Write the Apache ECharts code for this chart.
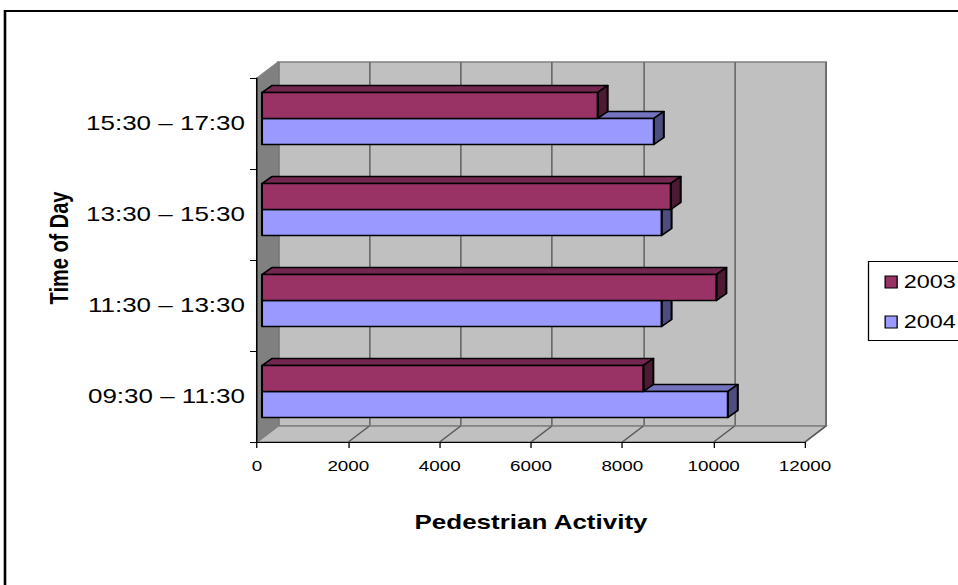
<!DOCTYPE html>
<html>
<head>
<meta charset="utf-8">
<script src="https://cdn.jsdelivr.net/npm/echarts@6/dist/echarts.min.js"></script>
<style>
  html, body { margin: 0; padding: 0; background: #fff; overflow: hidden; }
  #stage { width: 958px; height: 585px; overflow: hidden; }
  #chart { height: 585px; transform-origin: 0 0; }
</style>
</head>
<body>
<div id="stage"><div id="chart"></div></div>
<script>
// Pedestrian counts per two-hour window
const timeSlots = ['09:30 – 11:30', '11:30 – 13:30', '13:30 – 15:30', '15:30 – 17:30'];
const activity2003 = [8350, 9950, 8950, 7350];
const activity2004 = [10200, 8750, 8750, 8580];
const activityTicks = [0, 2000, 4000, 6000, 8000, 10000, 12000];
const seriesNames = ['2003', '2004'];

// The chart is laid out in a narrower box and widened horizontally by STRETCH,
// giving the broad, horizontally stretched look of the original export.
const STRETCH = 1.3;
const W = 958, H = 585;
const sx = function (v) { return v / STRETCH; };

const chartEl = document.getElementById('chart');
chartEl.style.width = sx(W) + 'px';
chartEl.style.transform = 'scaleX(' + STRETCH + ')';

// Pseudo-3D box: front plane, wall depth and bar depth (screen pixels before stretch)
const FONT = 'Liberation Sans, Arial, sans-serif';
const FRONT = { left: sx(257), top: 78, width: sx(548), height: 364 };
const DEPTH = [sx(21), -16];
const BAR_SHIFT = [sx(5), -5];
const BAR_DEPTH = [sx(10), -7];
const BAR_H = 26;

const palette = {
  '2003': { front: '#993366', top: '#732650', side: '#4d1a33' },
  '2004': { front: '#9999ff', top: '#7373c0', side: '#4d4d80' }
};

function barRenderer(name, upper) {
  const col = palette[name];
  return function (params, api) {
    const v = api.value(0), c = api.value(1);
    const p0 = api.coord([0, c]);
    const p1 = api.coord([v, c]);
    const x0 = p0[0] + BAR_SHIFT[0];
    const x1 = p1[0] + BAR_SHIFT[0];
    const yc = p0[1] + BAR_SHIFT[1];
    const top = upper ? yc - BAR_H : yc;
    const bot = top + BAR_H;
    const dx = BAR_DEPTH[0], dy = BAR_DEPTH[1];
    const edge = { stroke: '#000', lineWidth: 1.6, lineJoin: 'round' };
    return {
      type: 'group',
      children: [
        { type: 'polygon', shape: { points: [[x0, top], [x1, top], [x1 + dx, top + dy], [x0 + dx, top + dy]] },
          style: Object.assign({ fill: col.top }, edge) },
        { type: 'polygon', shape: { points: [[x1, top], [x1, bot], [x1 + dx, bot + dy], [x1 + dx, top + dy]] },
          style: Object.assign({ fill: col.side }, edge) },
        { type: 'rect', shape: { x: x0, y: top, width: x1 - x0, height: BAR_H },
          style: Object.assign({ fill: col.front }, edge) }
      ]
    };
  };
}

// Side wall and floor of the box, plus floor grid lines
function wallRenderer(params, api) {
  const cs = params.coordSys;
  const L = cs.x, T = cs.y, R = cs.x + cs.width, B = cs.y + cs.height;
  const dx = DEPTH[0], dy = DEPTH[1];
  const children = [
    { type: 'polygon', shape: { points: [[L, B], [R, B], [R + dx, B + dy], [L + dx, B + dy]] },
      style: { fill: '#c0c0c0', stroke: '#808080', lineWidth: 1.4 } },
    { type: 'polygon', shape: { points: [[L, B], [L, T], [L + dx, T + dy], [L + dx, B + dy]] },
      style: { fill: '#808080', stroke: '#808080', lineWidth: 1 } }
  ];
  activityTicks.forEach(function (t) {
    if (t === 0) return;
    const x = api.coord([t, 0])[0];
    children.push({ type: 'line', shape: { x1: x, y1: B, x2: x + dx, y2: B + dy },
      style: { stroke: '#5a5a5a', lineWidth: 1.1 } });
  });
  return { type: 'group', children: children };
}

const chart = echarts.init(chartEl, null, { renderer: 'svg' });

chart.setOption({
  animation: false,
  backgroundColor: '#ffffff',
  textStyle: { fontFamily: FONT, color: '#000' },
  grid: [
    { left: FRONT.left, top: FRONT.top, width: FRONT.width, height: FRONT.height, containLabel: false },
    { left: FRONT.left + DEPTH[0], top: FRONT.top + DEPTH[1], width: FRONT.width, height: FRONT.height,
      show: true, backgroundColor: '#c0c0c0', borderColor: '#808080', borderWidth: 1.4, z: 0 }
  ],
  xAxis: [
    {
      gridIndex: 0, type: 'value', min: 0, max: 12000, interval: 2000,
      axisLine: { show: true, lineStyle: { color: '#000', width: 1.2 } },
      axisTick: { show: true, length: 6, lineStyle: { color: '#000', width: 1 } },
      axisLabel: { color: '#000', fontSize: 14.5, fontFamily: FONT, margin: 17,
        formatter: function (v) { return String(v); } },
      splitLine: { show: false },
      name: 'Pedestrian Activity', nameLocation: 'middle', nameGap: 70,
      nameTextStyle: { fontSize: 20, fontWeight: 'bold', fontFamily: FONT, color: '#000' },
      z: 5
    },
    {
      gridIndex: 1, type: 'value', min: 0, max: 12000, interval: 2000,
      axisLine: { show: false }, axisTick: { show: false }, axisLabel: { show: false },
      splitLine: { show: true, lineStyle: { color: '#6b6b6b', width: 1.3 } },
      z: 1
    }
  ],
  yAxis: [
    {
      gridIndex: 0, type: 'category', data: timeSlots,
      axisLine: { show: true, lineStyle: { color: '#000', width: 1.2 } },
      axisTick: { show: true, length: sx(7), lineStyle: { color: '#000', width: 1 } },
      axisLabel: { color: '#000', fontSize: 20, fontFamily: FONT, margin: sx(12) },
      name: 'Time of Day', nameLocation: 'middle', nameGap: 139, nameRotate: 90,
      nameTextStyle: { fontSize: 20, fontWeight: 'bold', fontFamily: FONT, color: '#000',
        padding: [0, 0, 0, 24] },
      z: 5
    },
    {
      gridIndex: 1, type: 'category', data: timeSlots,
      axisLine: { show: false }, axisTick: { show: false }, axisLabel: { show: false },
      splitLine: { show: false }, z: 1
    }
  ],
  legend: {
    data: seriesNames,
    orient: 'vertical', left: sx(878), top: 267,
    icon: 'rect', itemWidth: sx(12), itemHeight: 12, itemGap: 20,
    itemStyle: { borderColor: '#000', borderWidth: 1 },
    textStyle: { fontSize: 18, lineHeight: 20, fontFamily: FONT, color: '#000' }
  },
  graphic: [
    { type: 'rect', z: 100, shape: { x: sx(5), y: 11, width: 1000, height: 1000 },
      style: { fill: 'none', stroke: '#000', lineWidth: 2 } },
    { type: 'rect', z: 100, shape: { x: sx(868.5), y: 261.5, width: 200, height: 79 },
      style: { fill: 'none', stroke: '#000', lineWidth: 1 } }
  ],
  series: [
    {
      type: 'custom', name: 'walls', xAxisIndex: 0, yAxisIndex: 0, z: 1, silent: true,
      clip: false, renderItem: wallRenderer, data: [[0, 0]]
    },
    {
      type: 'custom', name: '2004', xAxisIndex: 0, yAxisIndex: 0, z: 3, clip: false,
      itemStyle: { color: palette['2004'].front, borderColor: '#000', borderWidth: 1 },
      encode: { x: 0, y: 1 },
      renderItem: barRenderer('2004', false),
      data: activity2004.map(function (v, i) { return [v, i]; })
    },
    {
      type: 'custom', name: '2003', xAxisIndex: 0, yAxisIndex: 0, z: 4, clip: false,
      itemStyle: { color: palette['2003'].front, borderColor: '#000', borderWidth: 1 },
      encode: { x: 0, y: 1 },
      renderItem: barRenderer('2003', true),
      data: activity2003.map(function (v, i) { return [v, i]; })
    }
  ]
});
</script>
</body>
</html>
